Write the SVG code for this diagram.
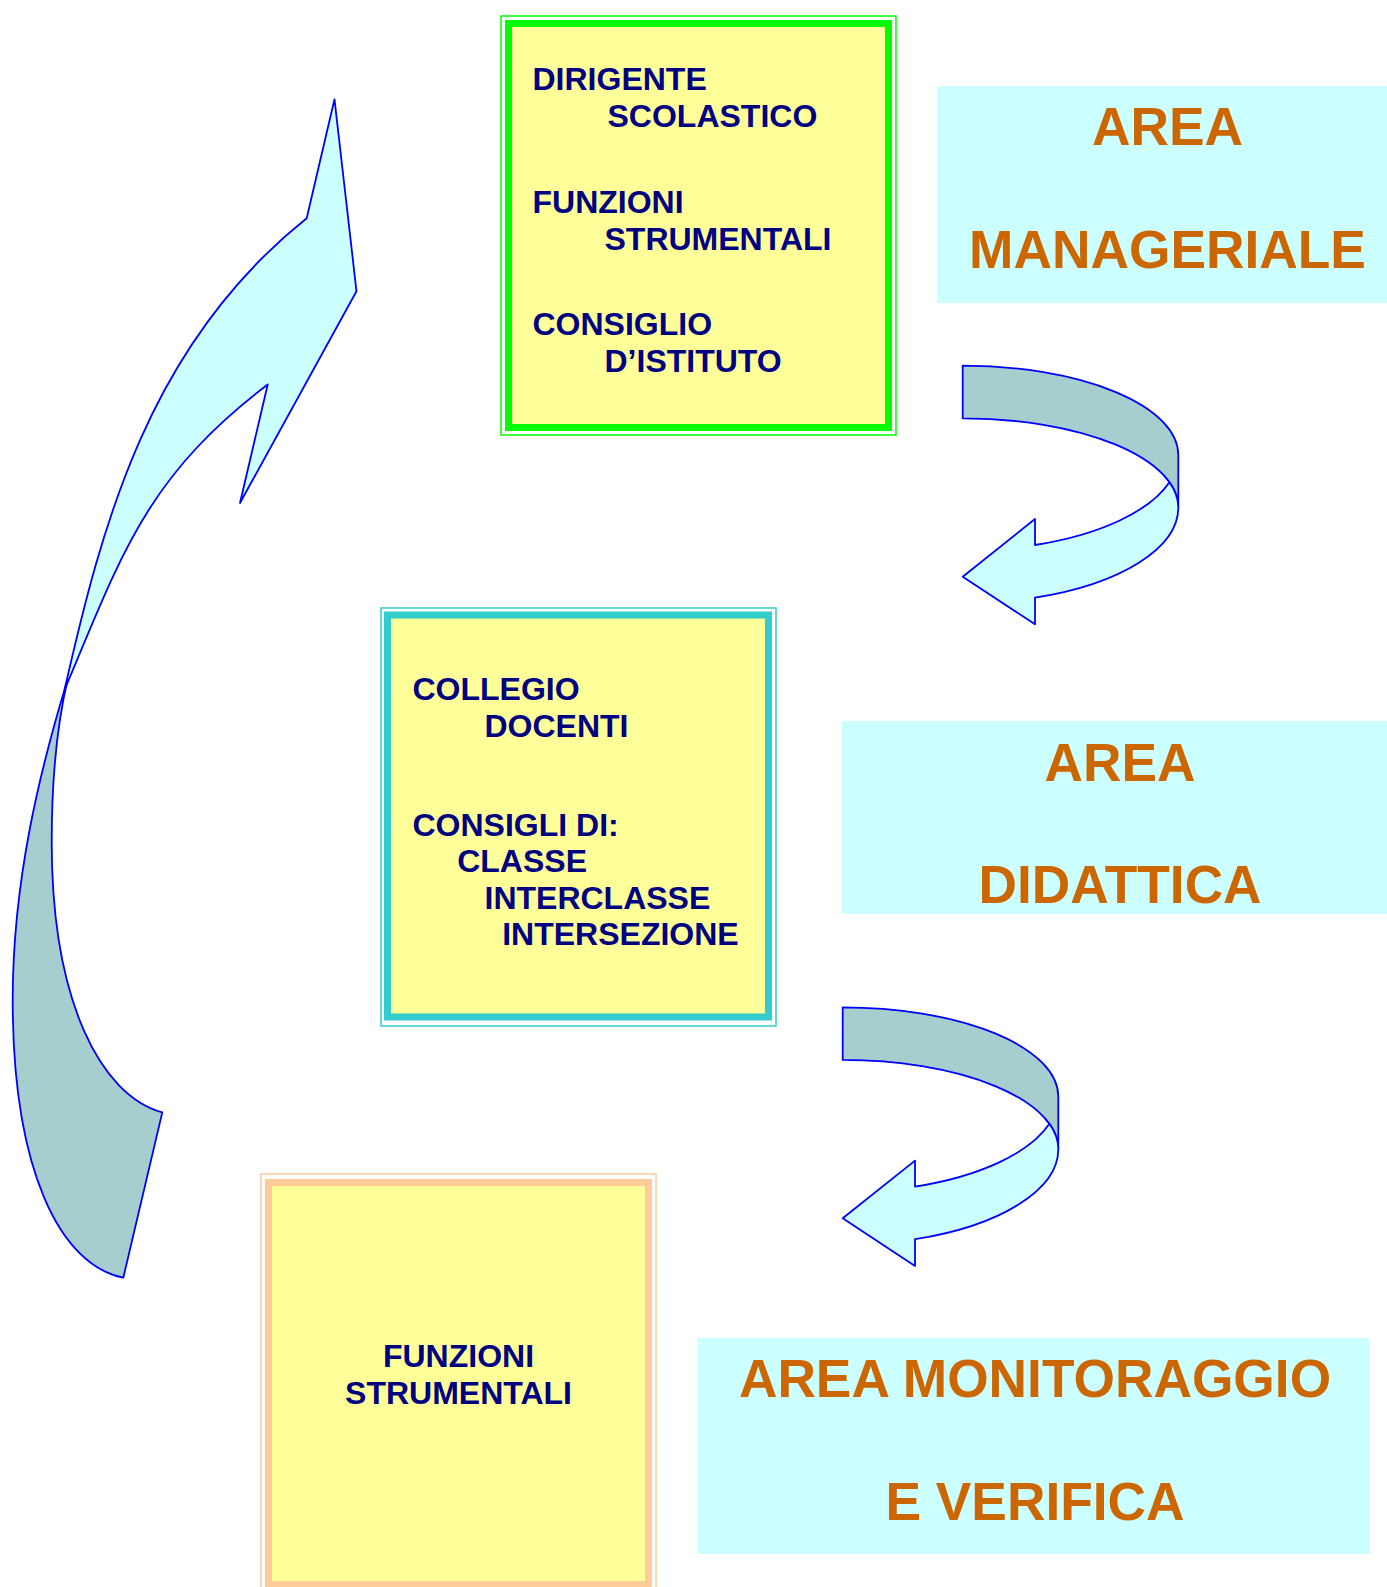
<svg xmlns="http://www.w3.org/2000/svg" xmlns:xlink="http://www.w3.org/1999/xlink" width="1387" height="1587" viewBox="0 0 1387 1587">
<style>
.lbl{font-family:"Liberation Sans",Arial,sans-serif;font-weight:bold;font-size:32px;fill:#000080}
.area{font-family:"Liberation Sans",Arial,sans-serif;font-weight:bold;font-size:53.3px;fill:#CC6600;text-anchor:middle}
.areabox{fill:#CCFFFF;stroke:none}
.yel{fill:#FFFF99}
.dark{fill:#A6CECE;stroke:#0000FF;stroke-width:1.8;stroke-linejoin:round}
.light{fill:#CCFFFF;stroke:#0000FF;stroke-width:1.8;stroke-linejoin:round}
</style>
<defs>
<g id="uturn">
<path class="dark" d="M 962.7 365.7 A 215.6 89.3 0 0 1 1178.3 455 L 1178.3 507.6 A 215.6 89.3 0 0 0 962.7 418.3 Z"/>
<path class="light" d="M 1169.4 482.2 A 215.6 89.3 0 0 1 1178.3 507.6 A 215.6 95.5 0 0 1 1035 597.6 L 1035 624.3 L 962.7 576.7 L 1035 519 L 1035 545 A 215.6 95.5 0 0 0 1169.4 482.2 Z"/>
</g>
</defs>
<rect width="1387" height="1587" fill="#FFFFFF"/>

<g id="area-manageriale">
<rect class="areabox" x="937" y="86" width="450" height="217"/>
<text class="area" x="1167.5" y="145">AREA</text>
<text class="area" x="1167.5" y="268">MANAGERIALE</text>
</g>
<g id="area-didattica">
<rect class="areabox" x="842" y="721" width="545" height="193"/>
<text class="area" x="1120" y="780.5">AREA</text>
<text class="area" x="1120" y="902.5">DIDATTICA</text>
</g>
<g id="area-monitoraggio">
<rect class="areabox" x="697.5" y="1338" width="672.5" height="216"/>
<text class="area" x="1035" y="1397">AREA MONITORAGGIO</text>
<text class="area" x="1035" y="1520">E VERIFICA</text>
</g>

<g id="box-dirigente">
<rect x="501" y="16" width="395" height="419" fill="none" stroke="#00FF00" stroke-width="1.5"/>
<rect class="yel" x="508.5" y="23.5" width="380" height="404" stroke="#00FF00" stroke-width="7"/>
<text class="lbl" x="532.5" y="90">DIRIGENTE</text>
<text class="lbl" x="607.5" y="126.7">SCOLASTICO</text>
<text class="lbl" x="532.5" y="212.7">FUNZIONI</text>
<text class="lbl" x="604.5" y="250">STRUMENTALI</text>
<text class="lbl" x="532.5" y="335">CONSIGLIO</text>
<text class="lbl" x="604.5" y="372.3">D’ISTITUTO</text>
</g>

<g id="box-collegio">
<rect x="381" y="608" width="395" height="418" fill="none" stroke="#33CCCC" stroke-width="1.5"/>
<rect class="yel" x="387.5" y="615" width="381" height="402" stroke="#33CCCC" stroke-width="7"/>
<text class="lbl" x="412.5" y="699.5">COLLEGIO</text>
<text class="lbl" x="484.5" y="736.7">DOCENTI</text>
<text class="lbl" x="412.5" y="835.7">CONSIGLI DI:</text>
<text class="lbl" x="457.2" y="872.3">CLASSE</text>
<text class="lbl" x="484.5" y="909">INTERCLASSE</text>
<text class="lbl" x="502.2" y="945">INTERSEZIONE</text>
</g>

<g id="box-funzioni">
<rect x="261" y="1174" width="395" height="418" fill="none" stroke="#FFCC99" stroke-width="1.5"/>
<rect class="yel" x="268.5" y="1182.5" width="380" height="402" stroke="#FFCC99" stroke-width="7"/>
<text class="lbl" x="458.5" y="1366.7" text-anchor="middle">FUNZIONI</text>
<text class="lbl" x="458.5" y="1403.5" text-anchor="middle">STRUMENTALI</text>
</g>

<g id="connectors">
<use xlink:href="#uturn" href="#uturn"/>
<use xlink:href="#uturn" href="#uturn" transform="translate(-120,641.6)"/>
<path class="dark" d="M 68 678 C 40 770 12.7 880 12.7 1000 C 12.7 1170 60 1265 123.3 1277.7 L 162.3 1112.4 C 100 1095 51.7 1000 51.7 841.8 C 51.7 770 58 720 68 678 Z"/>
<path class="light" d="M 334.5 99.3 L 356.5 291.3 L 240 503 L 267.7 384.5 C 146.1 477 121.7 554.1 64.5 690 C 102 525.4 148 344.6 306.7 218.3 Z"/>
</g>
</svg>
